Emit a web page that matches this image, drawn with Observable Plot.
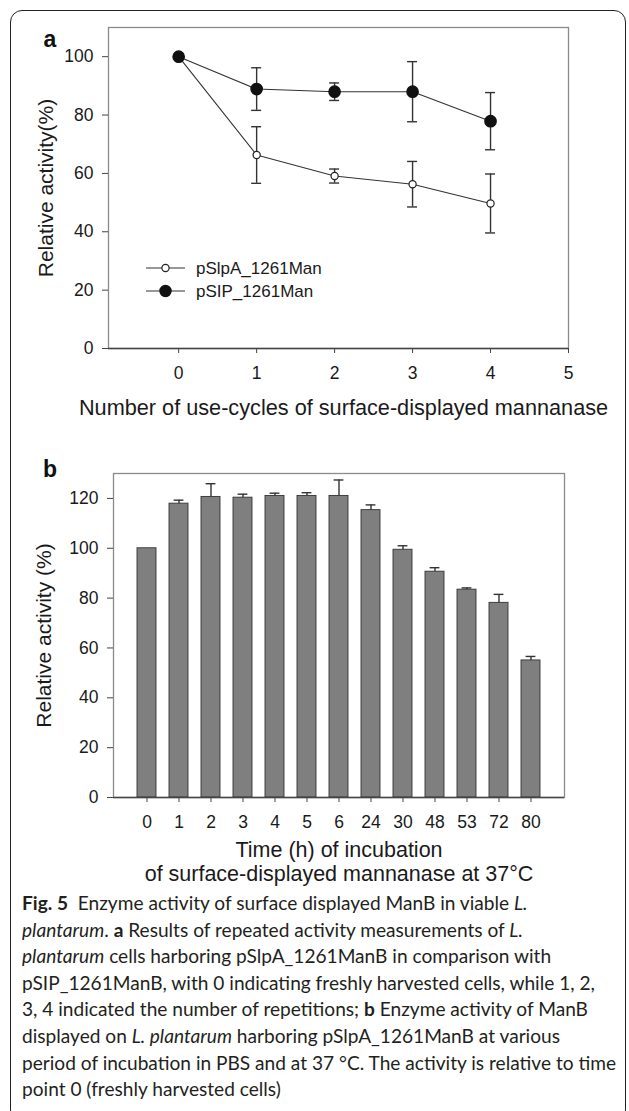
<!DOCTYPE html>
<html><head><meta charset="utf-8">
<script src="https://cdn.jsdelivr.net/npm/d3@7"></script>
<script src="https://cdn.jsdelivr.net/npm/@observablehq/plot@0.6"></script>
<style>
html,body{margin:0;padding:0;background:#fff;}
#root{position:relative;width:629px;height:1111px;overflow:hidden;background:#fff;}
#border{position:absolute;left:10px;top:10px;width:616px;height:1112px;border:1.3px solid #222;border-radius:12px;box-sizing:border-box;}
#panelA{position:absolute;left:0;top:0;}
#panelB{position:absolute;left:0;top:428px;}
#overlay{position:absolute;left:0;top:0;}
#caption{position:absolute;left:22px;top:890px;font-family:Lato,'Open Sans',sans-serif;font-size:19.5px;line-height:26.6px;color:#231f20;white-space:nowrap;transform-origin:0 0;}
#caption b{font-weight:700;}
</style></head><body>
<div id="root">
  <div id="border"></div>
  <div id="panelA"></div>
  <div id="panelB"></div>
  <svg id="overlay" width="629" height="1111" font-family="'Liberation Sans', Arial, sans-serif"></svg>
  <div id="caption">
    <div><b>Fig. 5</b>&nbsp; Enzyme activity of surface displayed ManB in viable <i>L.</i></div>
    <div><i>plantarum</i>. <b>a</b> Results of repeated activity measurements of <i>L.</i></div>
    <div><i>plantarum</i> cells harboring pSlpA_1261ManB in comparison with</div>
    <div>pSIP_1261ManB, with 0 indicating freshly harvested cells, while 1, 2,</div>
    <div>3, 4 indicated the number of repetitions; <b>b</b> Enzyme activity of ManB</div>
    <div>displayed on <i>L. plantarum</i> harboring pSlpA_1261ManB at various</div>
    <div id="l7">period of incubation in PBS and at 37 °C. The activity is relative to time</div>
    <div>point 0 (freshly harvested cells)</div>
  </div>
</div>
<script>
// ---------- Panel a data ----------
const cycles = [0, 1, 2, 3, 4];
const slpaMean = [100, 66.3, 59.1, 56.3, 49.7];
const slpaErr  = [0, 9.7, 2.4, 7.8, 10.1];
const sipMean  = [100, 88.9, 88.0, 88.0, 77.9];
const sipErr   = [0, 7.3, 3.0, 10.3, 9.8];
const seriesNames = ["pSlpA_1261Man", "pSIP_1261Man"];
const xTicksA = [0, 1, 2, 3, 4, 5];
const yTicksA = [0, 20, 40, 60, 80, 100];
const xTitleA = "Number of use-cycles of surface-displayed mannanase";
const yTitleA = "Relative activity(%)";

// ---------- Panel b data ----------
const hours   = ["0", "1", "2", "3", "4", "5", "6", "24", "30", "48", "53", "72", "80"];
const barMean = [100, 117.9, 120.6, 120.3, 121.0, 121.0, 121.0, 115.3, 99.4, 90.6, 83.4, 78.1, 55.0];
const barErr  = [0, 1.4, 5.3, 1.4, 1.1, 1.3, 6.4, 2.1, 1.6, 1.6, 0.7, 3.4, 1.6];
const yTicksB = [0, 20, 40, 60, 80, 100, 120];
const xTitleB = "Time (h) of incubation\nof surface-displayed mannanase at 37°C";
const yTitleB = "Relative activity (%)";

const font = "'Liberation Sans', Arial, sans-serif";
const ink = "#1a1a1a";

const rowsA = [];
cycles.forEach((c, i) => {
  rowsA.push({series: seriesNames[0], x: c, y: slpaMean[i], e: slpaErr[i]});
  rowsA.push({series: seriesNames[1], x: c, y: sipMean[i], e: sipErr[i]});
});
const errA = rowsA.filter(d => d.e > 0);
const errStyle = {stroke: "#333", strokeWidth: 1.4};

const plotA = Plot.plot({
  width: 629, height: 428,
  marginTop: 27, marginBottom: 80, marginLeft: 108, marginRight: 61,
  style: {fontFamily: font, fontSize: "17.5px", color: ink, background: "transparent"},
  x: {domain: [-0.9, 5]},
  y: {domain: [0, 110]},
  marks: [
    Plot.frame({stroke: "#8a8a8a", strokeWidth: 1.3}),
    Plot.axisY({ticks: yTicksA, tickSize: 6, tickPadding: 9, label: null, stroke: "#444"}),
    Plot.axisX({ticks: xTicksA, tickFormat: d3.format("d"), tickSize: 5, tickPadding: 13, label: null, stroke: "#444"}),
    Plot.ruleY([0], {stroke: "#444", strokeWidth: 1.3}),
    Plot.ruleX(errA, {x: "x", y1: d => d.y - d.e, y2: d => d.y + d.e, ...errStyle}),
    Plot.ruleY(errA, {x1: "x", x2: "x", y: d => d.y + d.e, insetLeft: -5, insetRight: -5, ...errStyle}),
    Plot.ruleY(errA, {x1: "x", x2: "x", y: d => d.y - d.e, insetLeft: -5, insetRight: -5, ...errStyle}),
    Plot.line(rowsA, {x: "x", y: "y", z: "series", stroke: "#333", strokeWidth: 1.1}),
    Plot.dot(rowsA.filter(d => d.series === seriesNames[0]), {x: "x", y: "y", r: 3.6, fill: "white", stroke: "#222", strokeWidth: 1.2}),
    Plot.dot(rowsA.filter(d => d.series === seriesNames[1]), {x: "x", y: "y", r: 5.6, fill: "#111", stroke: "#111"}),
    Plot.text([yTitleA], {text: d => d, frameAnchor: "left", rotate: -90, dx: -62.5, textAnchor: "middle", lineAnchor: "middle", fontSize: 21, fill: ink}),
    Plot.text([xTitleA], {text: d => d, frameAnchor: "bottom", dx: 5, dy: 60, textAnchor: "middle", lineAnchor: "middle", fontSize: 21.7, fill: ink})
  ]
});
document.getElementById("panelA").appendChild(plotA);

const rowsB = hours.map((h, i) => ({h, v: barMean[i], e: barErr[i]}));
const errB = rowsB.filter(d => d.e > 0);

const plotB = Plot.plot({
  width: 629, height: 460,
  marginTop: 45, marginBottom: 91, marginLeft: 113, marginRight: 65,
  style: {fontFamily: font, fontSize: "17.5px", color: ink, background: "transparent"},
  x: {domain: hours, paddingInner: 0.4, paddingOuter: 0.7},
  y: {domain: [0, 130]},
  marks: [
    Plot.frame({stroke: "#8a8a8a", strokeWidth: 1.3}),
    Plot.barY(rowsB, {x: "h", y: "v", fill: "#7f7f7f", stroke: "#333", strokeWidth: 0.9}),
    Plot.ruleX(errB, {x: "h", y1: "v", y2: d => d.v + d.e, ...errStyle}),
    Plot.ruleY(errB, {x1: "h", x2: "h", y: d => d.v + d.e, insetLeft: 4.6, insetRight: 4.6, ...errStyle}),
    Plot.axisY({ticks: yTicksB, tickSize: 6, tickPadding: 9, label: null, stroke: "#444"}),
    Plot.axisX({tickSize: 5, tickPadding: 13, label: null, stroke: "#444"}),
    Plot.ruleY([0], {stroke: "#444", strokeWidth: 1.3}),
    Plot.text([yTitleB], {text: d => d, frameAnchor: "left", rotate: -90, dx: -69.3, textAnchor: "middle", lineAnchor: "middle", fontSize: 21, fill: ink}),
    Plot.text([xTitleB], {text: d => d, frameAnchor: "bottom", dy: 64, textAnchor: "middle", lineAnchor: "middle", lineHeight: 1.12, fontSize: 21.5, fill: ink})
  ]
});
document.getElementById("panelB").appendChild(plotB);

// ---------- overlay: panel letters and legend ----------
const ov = d3.select("#overlay");
ov.append("text").attr("x", 50).attr("y", 46.7).attr("text-anchor", "middle")
  .attr("font-size", 23).attr("font-weight", "bold").attr("fill", "#111").text("a");
ov.append("text").attr("x", 50).attr("y", 477.3).attr("text-anchor", "middle")
  .attr("font-size", 23).attr("font-weight", "bold").attr("fill", "#111").text("b");
const legendY = [268, 291];
seriesNames.forEach((name, i) => {
  const g = ov.append("g");
  g.append("line").attr("x1", 146).attr("x2", 185).attr("y1", legendY[i]).attr("y2", legendY[i])
    .attr("stroke", "#333").attr("stroke-width", 1.1);
  g.append("circle").attr("cx", 165.5).attr("cy", legendY[i]).attr("r", i === 0 ? 3.6 : 5.6)
    .attr("fill", i === 0 ? "white" : "#111").attr("stroke", i === 0 ? "#222" : "#111").attr("stroke-width", 1.2);
  g.append("text").attr("x", 196).attr("y", legendY[i]).attr("dy", "0.35em")
    .attr("font-size", 17).attr("fill", ink).text(name);
});

// fit caption width to the reference line width
const l7 = document.getElementById("l7");
const range = document.createRange(); range.selectNodeContents(l7);
const tw = range.getBoundingClientRect().width;
if (tw > 0) document.getElementById("caption").style.transform = `scaleX(${594 / tw})`;
</script>
</body></html>
